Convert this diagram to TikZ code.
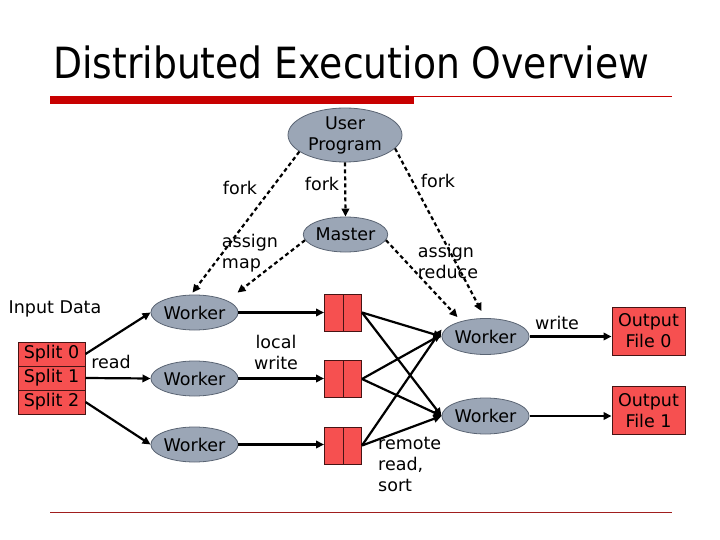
\documentclass[tikz,border=0pt]{standalone}
\usepackage{fontspec}
\setmainfont{DejaVu Sans}
\usetikzlibrary{shapes.geometric,arrows.meta,calc}
\definecolor{ellfill}{RGB}{155,166,182}
\definecolor{ellline}{RGB}{90,100,115}
\definecolor{boxfill}{RGB}{246,80,80}
\definecolor{boxline}{RGB}{70,20,20}
\definecolor{titlered}{RGB}{200,0,0}
\definecolor{linered}{RGB}{160,30,30}
\tikzset{
  proc/.style={ellipse, draw=ellline, line width=0.8pt, fill=ellfill, inner sep=0pt, align=center},
  databox/.style={rectangle, draw=boxline, line width=1pt, fill=boxfill, inner sep=0pt, align=center},
  dblbox/.style={databox, minimum width=37pt, minimum height=37pt,
    path picture={\draw[boxline, line width=1pt] (path picture bounding box.north) -- (path picture bounding box.south);}},
  lbl/.style={inner sep=0pt, align=left},
  solidarrow/.style={line width=2.2pt, -{Triangle[length=8pt,width=7.5pt]}},
  dasharrow/.style={line width=2.2pt, dash pattern=on 4pt off 3pt, -{Triangle[length=8pt,width=7.5pt]}},
}
\begin{document}
\begin{tikzpicture}[x=1pt,y=-1pt, font=\fontsize{17.5}{21}\selectfont]
\useasboundingbox (0,0) rectangle (720,540);
% title
\node[anchor=base west, inner sep=0pt] (title) at (53,79)
  {\fontsize{43}{50}\selectfont\scalebox{0.877}[1]{Distributed Execution Overview}};
\draw[titlered, line width=0.8pt] (50,96.5) -- (672,96.5);
\fill[titlered] (50,96.5) rectangle (414,104);
\draw[linered, line width=0.8pt] (50,512) -- (672,512);

% nodes
\node[proc, minimum width=114pt, minimum height=54pt] (user) at (345,135) {User\\Program};
\node[proc, minimum width=79pt, minimum height=35pt] (master) at (345.5,234.5) {Master};
\node[proc, minimum width=78pt, minimum height=35pt] (w1) at (194.5,312.5) {Worker};
\node[proc, minimum width=78pt, minimum height=35pt] (w2) at (194.5,378.5) {Worker};
\node[proc, minimum width=78pt, minimum height=35pt] (w3) at (194.5,444.5) {Worker};
\node[proc, minimum width=79pt, minimum height=36pt] (rw1) at (485.5,336.5) {Worker};
\node[proc, minimum width=79pt, minimum height=36pt] (rw2) at (485.5,416) {Worker};

\node[databox, minimum width=67pt, minimum height=24pt] (s0) at (51.5,354) {Split 0};
\node[databox, minimum width=67pt, minimum height=24pt] (s1) at (51.5,378) {Split 1};
\node[databox, minimum width=67pt, minimum height=24pt] (s2) at (51.5,402) {Split 2};

\node[dblbox] (b1) at (343,312.5) {};
\node[dblbox] (b2) at (343,379) {};
\node[dblbox] (b3) at (343,445.5) {};

\node[databox, minimum width=73pt, minimum height=48pt] (o0) at (648.5,331) {Output\\File 0};
\node[databox, minimum width=73pt, minimum height=48pt] (o1) at (648.5,410.5) {Output\\File 1};

% labels
\node[lbl] (lin) at (55,309) {Input Data};
\node[lbl] (lread) at (111,362) {read};
\node[lbl, align=center] (llocal) at (276,352) {local\\write};
\node[lbl] (lfork1) at (240,188) {fork};
\node[lbl] (lfork2) at (322,184) {fork};
\node[lbl] (lfork3) at (438,181) {fork};
\node[lbl] (lmap) at (250,253) {assign\\map};
\node[lbl] (lred) at (448,261) {assign\\reduce};
\node[lbl] (lwrite) at (557,323) {write};
\node[lbl, anchor=north west] (lremote) at (378,437) {remote\\read,\\sort};

% dashed control arrows
\draw[dasharrow] (user.200) -- ([xshift=-2pt,yshift=2pt]w1.north);
\draw[dasharrow] (user.south) -- (master.north);
\draw[dasharrow] (user.-15) -- ([xshift=-4pt,yshift=7pt]rw1.north);
\draw[dasharrow] (master.188) -- ([xshift=-1pt,yshift=2pt]w1.north -| w1.east);
\draw[dasharrow] (master.-8) -- ([xshift=-28pt,yshift=1pt]rw1.north);

% data arrows
\draw[solidarrow] (s0.east) -- (w1.west);
\draw[solidarrow] (s1.east) -- (w2.west);
\draw[solidarrow] (s2.east) -- (w3.west);
\draw[solidarrow] (w1.east) -- (w1.east -| b1.west);
\draw[solidarrow] (w2.east) -- (w2.east -| b2.west);
\draw[solidarrow] (w3.east) -- (w3.east -| b3.west);
\draw[solidarrow] (b1.east) -- (rw1.west);
\draw[solidarrow] (b1.east) -- (rw2.west);
\draw[solidarrow] (b2.east) -- ([yshift=2pt]rw1.west);
\draw[solidarrow] (b2.east) -- (rw2.west);
\draw[solidarrow] (b3.east) -- ([yshift=7pt]rw1.west);
\draw[solidarrow] (b3.east) -- (rw2.west);
\draw[solidarrow] (rw1.east) -- (rw1.east -| o0.west);
\draw[solidarrow] (rw2.east) -- (rw2.east -| o1.west);
\end{tikzpicture}
\end{document}
